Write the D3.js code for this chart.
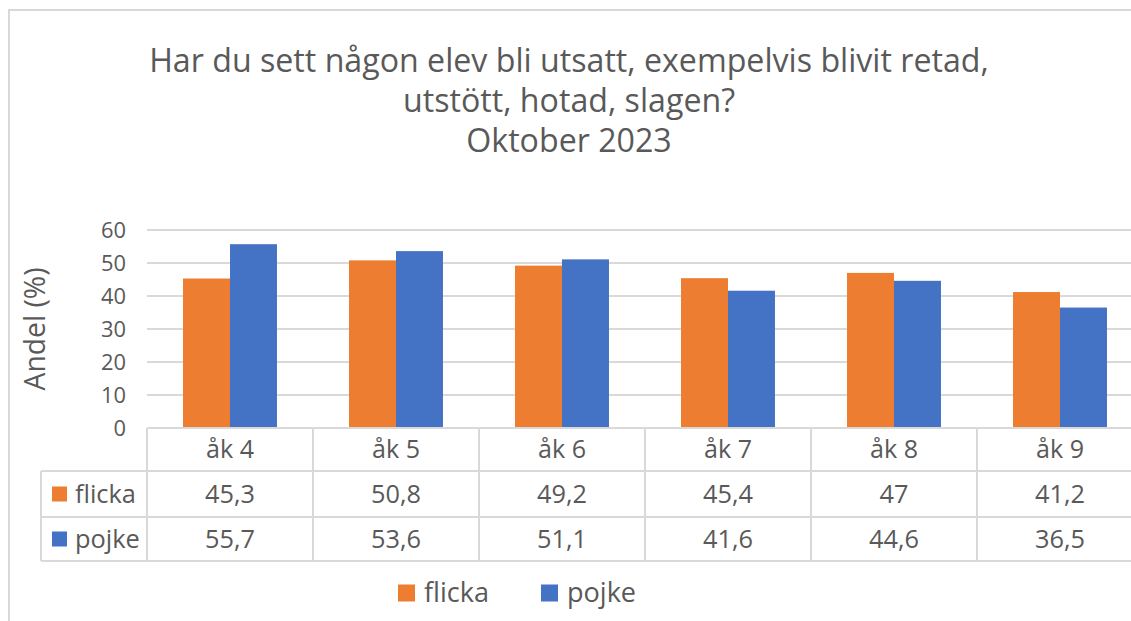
<!DOCTYPE html>
<html>
<head>
<meta charset="utf-8">
<script src="https://cdn.jsdelivr.net/npm/d3@7"></script>
<style>
  body { margin: 0; background: #fff; overflow: hidden; }
  svg { display: block; font-family: "Open Sans", "Noto Sans", sans-serif; }
</style>
</head>
<body>
<svg width="1131" height="621"></svg>
<script>
const categories = ["åk 4", "åk 5", "åk 6", "åk 7", "åk 8", "åk 9"];
const seriesNames = ["flicka", "pojke"];
const flicka = [45.3, 50.8, 49.2, 45.4, 47, 41.2];
const pojke = [55.7, 53.6, 51.1, 41.6, 44.6, 36.5];
const yTicks = [0, 10, 20, 30, 40, 50, 60];
const titleLines = [
  "Har du sett någon elev bli utsatt, exempelvis blivit retad,",
  "utstött, hotad, slagen?",
  "Oktober 2023"
];

const colors = { flicka: "#ED7D31", pojke: "#4472C4" };
const values = { flicka, pojke };
const textColor = "#595959";
const lineColor = "#D9D9D9";

const svg = d3.select("svg");

// plot area (right edge runs past the window, as in the source)
const plot = { left: 147, right: 1143, top: 230, bottom: 428 };
const rowH = [43, 46, 44];      // category row, flicka row, pojke row
const labelLeft = 41;

// font size that makes a string about `target` px wide
const probe = svg.append("text").attr("font-size", 100).attr("opacity", 0);
function fit(str, target) {
  probe.text(str);
  return 100 * target / probe.node().getComputedTextLength();
}
const fs = {
  title: fit(titleLines[0], 840),
  tick: fit("60", 25),
  axisTitle: fit("Andel (%)", 123),
  cat: fit("åk 4", 48),
  val: fit("45,3", 50),
  rowLabel: fit("flicka", 61),
  legend: fit("flicka", 65)
};
probe.remove();

// outer border
svg.append("rect")
  .attr("x", 9).attr("y", 10)
  .attr("width", 1200).attr("height", 700)
  .attr("fill", "none")
  .attr("stroke", lineColor)
  .attr("stroke-width", 2);

// title
svg.append("text")
  .attr("text-anchor", "middle")
  .attr("fill", textColor)
  .attr("font-size", fs.title)
  .selectAll("tspan")
  .data(titleLines)
  .join("tspan")
  .attr("x", 569)
  .attr("y", (d, i) => 72 + i * 40)
  .text(d => d);

const x = d3.scaleBand()
  .domain(categories)
  .range([plot.left, plot.right]);

const bw = x.bandwidth();
const x1 = d3.scaleBand()
  .domain(seriesNames)
  .range([bw * 0.217, bw * 0.783]);

const y = d3.scaleLinear()
  .domain([0, 60])
  .range([plot.bottom, plot.top]);

// gridlines
svg.append("g")
  .selectAll("line")
  .data(yTicks.filter(t => t > 0))
  .join("line")
  .attr("x1", plot.left).attr("x2", plot.right)
  .attr("y1", d => y(d)).attr("y2", d => y(d))
  .attr("stroke", lineColor)
  .attr("stroke-width", 2);

// y axis labels
const yAxis = svg.append("g")
  .attr("transform", `translate(${plot.left - 21},0)`)
  .call(d3.axisLeft(y).tickValues(yTicks).tickSize(0).tickPadding(0));
yAxis.select(".domain").remove();
yAxis.selectAll("text")
  .attr("font-family", "\"Open Sans\", \"Noto Sans\", sans-serif")
  .attr("font-size", fs.tick)
  .attr("fill", textColor)
  .attr("dy", "0.35em");

svg.append("text")
  .attr("transform", `translate(45,${(plot.top + plot.bottom) / 2}) rotate(-90)`)
  .attr("text-anchor", "middle")
  .attr("font-size", fs.axisTitle)
  .attr("fill", textColor)
  .text("Andel (%)");

// bars
const groups = svg.append("g")
  .selectAll("g")
  .data(categories)
  .join("g")
  .attr("transform", d => `translate(${x(d)},0)`);

groups.selectAll("rect")
  .data((c, i) => seriesNames.map(s => ({ s, v: values[s][i] })))
  .join("rect")
  .attr("x", d => x1(d.s))
  .attr("width", x1.bandwidth())
  .attr("y", d => y(d.v))
  .attr("height", d => y(0) - y(d.v))
  .attr("fill", d => colors[d.s]);

// data table
const rowTop = [plot.bottom];
rowH.forEach(h => rowTop.push(rowTop[rowTop.length - 1] + h));
const table = svg.append("g")
  .attr("stroke", lineColor)
  .attr("stroke-width", 2);

table.append("line")
  .attr("x1", plot.left).attr("x2", plot.right)
  .attr("y1", rowTop[0]).attr("y2", rowTop[0]);
rowTop.slice(1).forEach(t => {
  table.append("line")
    .attr("x1", labelLeft).attr("x2", plot.right)
    .attr("y1", t).attr("y2", t);
});
categories.map(c => x(c)).concat([plot.right]).forEach(px => {
  table.append("line")
    .attr("x1", px).attr("x2", px)
    .attr("y1", rowTop[0]).attr("y2", rowTop[3]);
});
table.append("line")
  .attr("x1", labelLeft).attr("x2", labelLeft)
  .attr("y1", rowTop[1]).attr("y2", rowTop[3]);

svg.append("g")
  .selectAll("text")
  .data(categories)
  .join("text")
  .attr("x", d => x(d) + bw / 2)
  .attr("y", (rowTop[0] + rowTop[1]) / 2)
  .attr("dy", "0.35em")
  .attr("text-anchor", "middle")
  .attr("font-size", fs.cat)
  .attr("fill", textColor)
  .text(d => d);

seriesNames.forEach((s, r) => {
  const cy = (rowTop[r + 1] + rowTop[r + 2]) / 2;
  svg.append("rect")
    .attr("x", 52).attr("y", cy - 7.5)
    .attr("width", 15).attr("height", 15)
    .attr("fill", colors[s]);
  svg.append("text")
    .attr("x", 75).attr("y", cy).attr("dy", "0.35em")
    .attr("font-size", fs.rowLabel)
    .attr("fill", textColor)
    .text(s);
  svg.append("g")
    .selectAll("text")
    .data(values[s])
    .join("text")
    .attr("x", (d, i) => x(categories[i]) + bw / 2)
    .attr("y", cy).attr("dy", "0.35em")
    .attr("text-anchor", "middle")
    .attr("font-size", fs.val)
    .attr("fill", textColor)
    .text(d => String(d).replace(".", ","));
});

// legend
const legendX = [398, 541];
const legend = svg.append("g")
  .selectAll("g")
  .data(seriesNames)
  .join("g")
  .attr("transform", (d, i) => `translate(${legendX[i]},593)`);
legend.append("rect")
  .attr("x", 0).attr("y", -8.5)
  .attr("width", 17).attr("height", 17)
  .attr("fill", d => colors[d]);
legend.append("text")
  .attr("x", 26).attr("dy", "0.35em")
  .attr("font-size", fs.legend)
  .attr("fill", textColor)
  .text(d => d);
</script>
</body>
</html>
